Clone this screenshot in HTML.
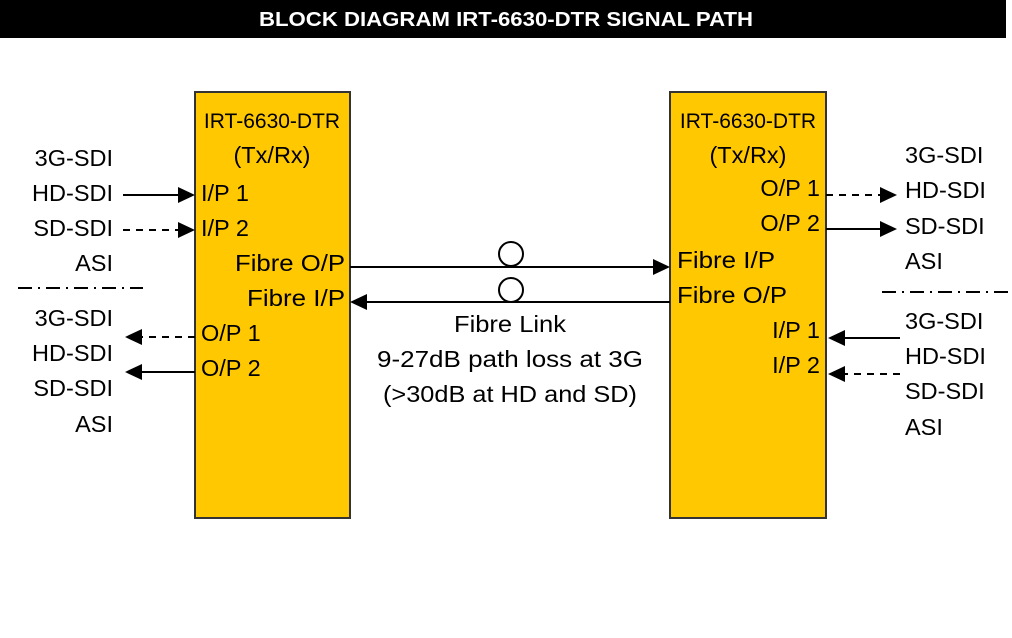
<!DOCTYPE html>
<html><head><meta charset="utf-8"><style>
html,body{margin:0;padding:0;background:#fff;}
svg{display:block;font-family:"Liberation Sans",sans-serif;}
</style></head><body>
<svg width="1012" height="638" viewBox="0 0 1012 638" xmlns="http://www.w3.org/2000/svg">
<rect x="0" y="0" width="1006" height="38" fill="#000"/>
<text x="506" y="26" fill="#fff" font-weight="bold" font-size="20" text-anchor="middle" textLength="494" lengthAdjust="spacingAndGlyphs">BLOCK DIAGRAM IRT-6630-DTR SIGNAL PATH</text>

<rect x="195" y="92" width="155" height="426" fill="#FFC800" stroke="#333" stroke-width="2"/>
<rect x="670" y="92" width="156" height="426" fill="#FFC800" stroke="#333" stroke-width="2"/>

<g font-size="23.5" fill="#000">
<g text-anchor="end">
<text x="113" y="166">3G-SDI</text>
<text x="113" y="201">HD-SDI</text>
<text x="113" y="236">SD-SDI</text>
<text x="113" y="271">ASI</text>
<text x="113" y="326">3G-SDI</text>
<text x="113" y="361">HD-SDI</text>
<text x="113" y="396">SD-SDI</text>
<text x="113" y="432">ASI</text>
</g>
<text x="272" y="128" font-size="21" text-anchor="middle">IRT-6630-DTR</text>
<text x="272" y="163" text-anchor="middle">(Tx/Rx)</text>
<text x="201" y="201">I/P 1</text>
<text x="201" y="236">I/P 2</text>
<text x="345" y="271" text-anchor="end" textLength="110" lengthAdjust="spacingAndGlyphs">Fibre O/P</text>
<text x="345" y="306" text-anchor="end" textLength="98" lengthAdjust="spacingAndGlyphs">Fibre I/P</text>
<text x="201" y="341">O/P 1</text>
<text x="201" y="376">O/P 2</text>

<text x="748" y="128" font-size="21" text-anchor="middle">IRT-6630-DTR</text>
<text x="748" y="163" text-anchor="middle">(Tx/Rx)</text>
<text x="820" y="196" text-anchor="end">O/P 1</text>
<text x="820" y="231" text-anchor="end">O/P 2</text>
<text x="677" y="268" textLength="98" lengthAdjust="spacingAndGlyphs">Fibre I/P</text>
<text x="677" y="303" textLength="110" lengthAdjust="spacingAndGlyphs">Fibre O/P</text>
<text x="820" y="338" text-anchor="end">I/P 1</text>
<text x="820" y="373" text-anchor="end">I/P 2</text>

<text x="905" y="163">3G-SDI</text>
<text x="905" y="198">HD-SDI</text>
<text x="905" y="234">SD-SDI</text>
<text x="905" y="269">ASI</text>
<text x="905" y="329">3G-SDI</text>
<text x="905" y="364">HD-SDI</text>
<text x="905" y="399">SD-SDI</text>
<text x="905" y="435">ASI</text>

<g text-anchor="middle">
<text x="510" y="332" textLength="112" lengthAdjust="spacingAndGlyphs">Fibre Link</text>
<text x="510" y="367" textLength="266" lengthAdjust="spacingAndGlyphs">9-27dB path loss at 3G</text>
<text x="510" y="402" textLength="254" lengthAdjust="spacingAndGlyphs">(&gt;30dB at HD and SD)</text>
</g>
</g>

<g stroke="#000" stroke-width="2" fill="none">
<line x1="123" y1="195" x2="180" y2="195"/>
<line x1="123" y1="230" x2="180" y2="230" stroke-dasharray="7,6"/>
<line x1="18" y1="288" x2="143" y2="288" stroke-dasharray="14,6,2,6"/>
<line x1="195" y1="337" x2="140" y2="337" stroke-dasharray="7,6"/>
<line x1="195" y1="372" x2="140" y2="372"/>

<line x1="350" y1="267" x2="655" y2="267"/>
<line x1="670" y1="302" x2="365" y2="302"/>
<circle cx="511" cy="254" r="12" fill="#fff"/>
<circle cx="511" cy="290" r="12" fill="#fff"/>

<line x1="826" y1="195" x2="882" y2="195" stroke-dasharray="7,6"/>
<line x1="826" y1="229" x2="882" y2="229"/>
<line x1="882" y1="292" x2="1010" y2="292" stroke-dasharray="14,6,2,6"/>
<line x1="900" y1="338" x2="842" y2="338"/>
<line x1="900" y1="374" x2="842" y2="374" stroke-dasharray="7,6"/>
</g>
<g fill="#000">
<polygon points="195,195 178,187 178,203"/>
<polygon points="195,230 178,222 178,238"/>
<polygon points="125,337 142,329 142,345"/>
<polygon points="125,372 142,364 142,380"/>
<polygon points="670,267 653,259 653,275"/>
<polygon points="350,302 367,294 367,310"/>
<polygon points="897,195 880,187 880,203"/>
<polygon points="897,229 880,221 880,237"/>
<polygon points="828,338 845,330 845,346"/>
<polygon points="828,374 845,366 845,382"/>
</g>
</svg>
</body></html>
